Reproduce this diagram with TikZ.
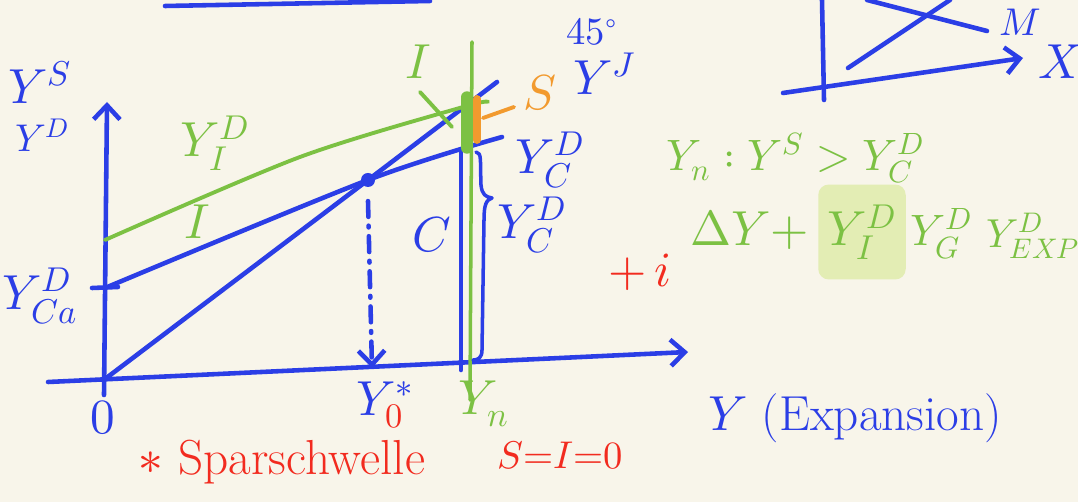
\documentclass[tikz,border=0pt]{standalone}
\usepackage{unicode-math}
\usetikzlibrary{arrows.meta}
\definecolor{paper}{HTML}{F8F5EA}
\definecolor{pen}{HTML}{2B3EE6}
\definecolor{leaf}{HTML}{7CC143}
\definecolor{ink}{HTML}{F22B1F}
\definecolor{amber}{HTML}{F29A2E}
\definecolor{glow}{HTML}{E3EDB4}
\tikzset{
  stroke/.style={line width=2.6pt, line cap=round, line join=round},
  barb/.style={-{Straight Barb[length=8pt,width=15pt]}},
  big/.style={font=\fontsize{28}{30}\selectfont, inner sep=0pt},
  mid/.style={font=\fontsize{22}{24}\selectfont, inner sep=0pt},
}
\begin{document}
\begin{tikzpicture}[x=0.02cm, y=-0.02cm]
\useasboundingbox[fill=paper] (0,0) rectangle (1078,502);

% axes
\coordinate (O) at (105,379);
\coordinate (ybot) at (104,395);
\coordinate (ytop) at (107,102);
\coordinate (xleft) at (48,382);
\coordinate (xend) at (688,352);
\draw[stroke, pen, barb] (ybot) -- (ytop);
\draw[stroke, pen, barb] (xleft) -- (xend);

% curves
\coordinate (E) at (368,180);
\coordinate (top45) at (497,82);
\coordinate (Ca) at (105,288);
\coordinate (Cend) at (502,137);
\coordinate (Ia) at (105,240);
\coordinate (Imid) at (300,157);
\coordinate (Icut) at (463,107);
\coordinate (Iend) at (488,102);
\draw[stroke, pen] (O) -- (E) -- (top45);
\draw[stroke, pen] plot[smooth] coordinates {(Ca) (E) (Cend)};
\draw[stroke, leaf, line width=2.2pt] plot[smooth] coordinates {(Ia) (Imid) (Icut) (Iend)};
\draw[stroke, pen] (92,288) -- (118,287);
\fill[pen] (E) circle (7);

% equilibrium drop
\coordinate (Efoot) at (372,368);
\draw[stroke, pen, barb, dash pattern=on 9pt off 5pt on 1pt off 5pt] ([yshift=-12]E) -- (Efoot);

% verticals at Y_n
\coordinate (cbartop) at (461,152);
\coordinate (cbarbot) at (461,370);
\coordinate (ntop) at (472,42);
\coordinate (nbot) at (470,400);
\draw[stroke, pen] (cbartop) -- (cbarbot);
\draw[stroke, leaf, line width=2pt] (ntop) -- (nbot);
\draw[leaf, line width=6.5pt, line cap=round] (467,97) -- (467,148);
\draw[amber, line width=4.5pt, line cap=round] (477,99) -- (477,140);
\draw[stroke, pen, line width=2pt] (476,152) .. controls (482,153) and (480,160) .. (481,185)
  .. controls (482,195) and (486,197) .. (492,198)
  .. controls (486,200) and (484,205) .. (484,220) -- (482,350)
  .. controls (482,358) and (478,360) .. (473,360);

% labels on the axes
\node[big, pen] (ys) at (40,82) {$Y^{S}$};
\node[mid, pen] (yd) at (42,135) {$Y^{D}$};
\node[big, pen] (yca) at (40,296) {$Y^{D}_{Ca}$};
\node[big, pen] (zero) at (103,418) {$0$};
\node[big, pen] (ystar) at (385,405) {$Y^{*}_{\textcolor{ink}{0}}$};
\node[big, leaf] (yn) at (484,404) {$Y_{n}$};

% labels on the curves
\node[big, leaf] (lydi) at (215,143) {$Y^{D}_{I}$};
\node[big, leaf] (lI) at (197,222) {$I$};
\node[big, leaf] (lIt) at (418,62) {$I$};
\draw[stroke, leaf, line width=2.2pt] (420,92) -- (452,127);
\node[big, amber] (lS) at (540,93) {$S$};
\draw[stroke, amber, line width=2.2pt] (483,118) -- (514,107);
\node[mid, pen] (l45) at (592,32) {$45^{\circ}$};
\node[big, pen] (lyj) at (605,74) {$Y^{J}$};
\node[big, pen] (lydc) at (550,160) {$Y^{D}_{C}$};
\node[big, pen] (lC) at (432,235) {$C$};
\node[big, pen] (lydc2) at (532,225) {$Y^{D}_{C}$};

% notes on the right
\node[big, leaf, font=\fontsize{25}{27}\selectfont] (cond) at (795,158) {$Y_{n}:Y^{S}>Y^{D}_{C}$};
\node[big, leaf] (dy) at (750,230) {$\Delta Y+$};
\node[big, leaf, fill=glow, rounded corners=6pt, minimum width=1.75cm, minimum height=1.9cm] (ydi) at (862,232) {$Y^{D}_{I}$};
\node[mid, leaf, font=\fontsize{25}{27}\selectfont] (ydg) at (941,234) {$Y^{D}_{G}$};
\node[mid, leaf, font=\fontsize{23}{25}\selectfont] (ydx) at (1033,236) {$Y^{D}_{EXP}$};
\node[big, ink] (rate) at (640,272) {$+\,i$};
\node[big, pen] (yexp) at (855,418) {$Y$ (Expansion)};
\node[big, ink] (spar) at (282,462) {$*$ Sparschwelle};
\node[mid, ink] (sio) at (560,455) {$S{=}I{=}0$};

% top edge
\coordinate (edgeA) at (165,6);
\coordinate (edgeB) at (430,1);
\draw[stroke, pen] (edgeA) -- (edgeB);

% small sketch top right
\coordinate (mvtop) at (822,0);
\coordinate (mvbot) at (824,100);
\coordinate (mhl) at (783,93);
\coordinate (mhr) at (1023,58);
\draw[stroke, pen] (mvtop) -- (mvbot);
\draw[stroke, pen, barb] (mhl) -- (mhr);
\draw[stroke, pen] (848,68) -- (950,0);
\draw[stroke, pen] (867,0) -- (987,31);
\node[mid, pen] (lM) at (1020,22) {$M$};
\node[big, pen] (lX) at (1060,62) {$X$};
\end{tikzpicture}
\end{document}
